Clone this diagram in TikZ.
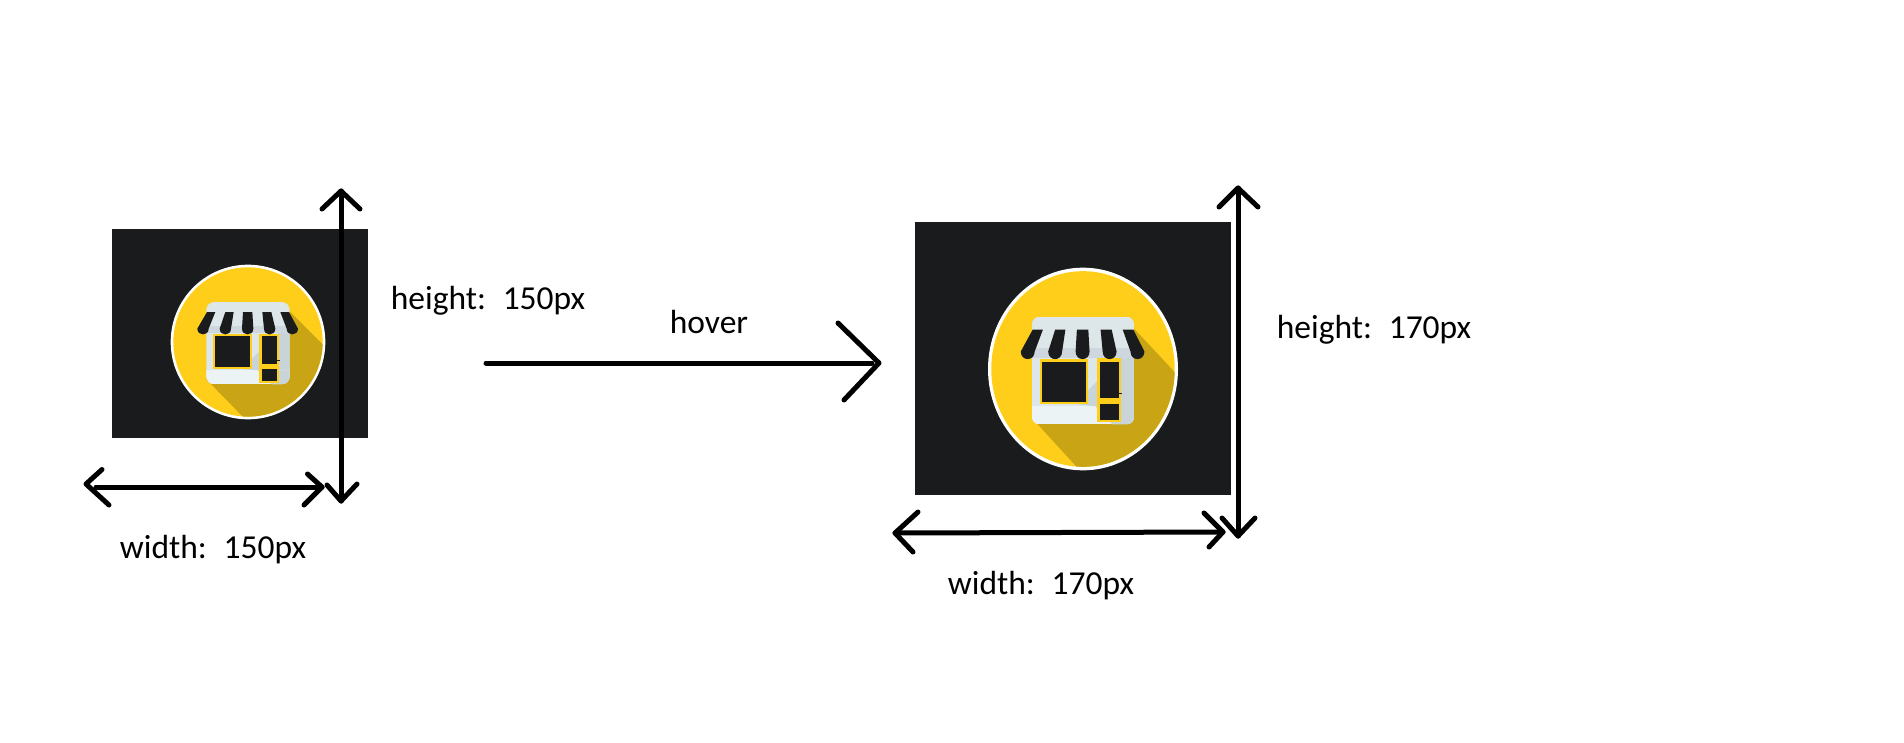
\documentclass[tikz,border=0pt]{standalone}
\usepackage{fontspec}
\setmainfont{Carlito}
\definecolor{darkbg}{HTML}{1A1B1D}
\definecolor{sunny}{HTML}{FFCE1A}
\definecolor{shadowy}{HTML}{C9A516}
\definecolor{shopbase}{HTML}{DDE6E8}
\definecolor{shopband}{HTML}{ECF3F4}
\definecolor{shopdark}{HTML}{C9D4D8}
\definecolor{awnshade}{HTML}{BFCBD4}
\tikzset{
  arrowline/.style={draw=black,line width=5pt,line cap=round,line join=round},
  lbl/.style={inner sep=0pt,font=\fontsize{33.5}{33.5}\selectfont,text=black},
  panel/.style={fill=darkbg,draw=none},
}
% icon drawn in units of 1/232 of the disc radius, origin at the disc centre
\newcommand{\shopicon}[3]{%
\begin{scope}[shift={(#1)},xscale=#2,yscale=#3]
  \fill[white] (0,0) circle (232);
  \begin{scope}
    \clip (0,0) circle (224);
    \fill[sunny] (-240,-240) rectangle (240,240);
    \fill[shadowy] (105,-112) -- (240,23) -- (240,240) -- (0,240) -- (-125,112) -- cycle;
  \end{scope}
  \begin{scope}
    \clip[rounded corners=8pt] (-125,-120) rectangle (125,127);
    \fill[shopbase] (-125,-120) rectangle (125,127);
    \fill[shopband] (-125,85) rectangle (125,127);
    \fill[shopdark] (-20,80) -- (95,-30) -- (125,-30) -- (125,85) -- (25,85) -- cycle;
    \fill[shopdark] (30,85) -- (125,85) -- (125,127) -- (72,127) -- cycle;
    \fill[awnshade!55!shopbase] (-125,-48) rectangle (125,-26);
  \end{scope}
  % window
  \fill[sunny] (-106,-23) rectangle (13,81);
  \fill[darkbg] (-100,-17) rectangle (7,75);
  % door
  \fill[sunny] (33,-25) rectangle (93,122);
  \fill[darkbg] (41,-17) rectangle (87,67);
  \fill[darkbg] (41,81) rectangle (87,117);
  \fill[darkbg] (85,55) rectangle (95,58);
  % awning stripes
  \foreach \tl/\tr/\bx in {-123/-98/-135,-68/-43/-68,-15/13/-1,43/70/65,97/123/133}{
    \fill[darkbg] (\tl,-90) -- (\tr,-90) -- (\bx+17,-40)
      .. controls (\bx+17,-17) and (\bx-17,-17) .. (\bx-17,-40) -- cycle;
  }
\end{scope}}
\begin{document}
\begin{tikzpicture}[x=1pt,y=-1pt]
\useasboundingbox (0,0) rectangle (1904,742);
\fill[white] (0,0) rectangle (1904,742);

% small panel
\path[panel] (112,229) rectangle (368,438);
\shopicon{248,342}{0.3333}{0.3333}

% large panel
\path[panel] (915,222) rectangle (1231,495);
\shopicon{1083,369}{0.4095}{0.4368}

% arrow end points
\coordinate (swl) at (86,484);
\coordinate (swr) at (322,487);
\coordinate (sht) at (341,191);
\coordinate (shb) at (341,501);
\coordinate (hvs) at (486,363);
\coordinate (hve) at (879,363);
\coordinate (lwl) at (895,533);
\coordinate (lwr) at (1223,532);
\coordinate (lht) at (1238,188);
\coordinate (lhb) at (1238,536);

% small width
\draw[arrowline] (96,487) -- (swr);
\draw[arrowline] (102,469.5) -- (swl) -- (109,505);
\draw[arrowline] (307.5,474) -- (swr) -- (304,505);
% small height
\draw[arrowline] (sht) -- (shb);
\draw[arrowline] (322,209) -- (sht) -- (360,209);
\draw[arrowline] (327,485) -- (shb) -- (357,484);
% hover
\draw[arrowline] (hvs) -- (872,363);
\draw[arrowline] (838,323) -- (hve) -- (844,400);
% large width
\draw[arrowline] (lwl) -- (lwr);
\draw[arrowline] (918,512) -- (lwl) -- (913,552);
\draw[arrowline] (1204,513) -- (lwr) -- (1209,547);
% large height
\draw[arrowline] (lht) -- (lhb);
\draw[arrowline] (1219,207) -- (lht) -- (1258,207);
\draw[arrowline] (1222,518) -- (lhb) -- (1255,518);

% labels
\node[lbl] (h150) at (488,301) {height:\hspace{0.5em}150px};
\node[lbl] (hov) at (709,322) {hover};
\node[lbl] (w150) at (213,550) {width:\hspace{0.5em}150px};
\node[lbl] (h170) at (1374,330) {height:\hspace{0.5em}170px};
\node[lbl] (w170) at (1041,586) {width:\hspace{0.5em}170px};
\end{tikzpicture}
\end{document}
